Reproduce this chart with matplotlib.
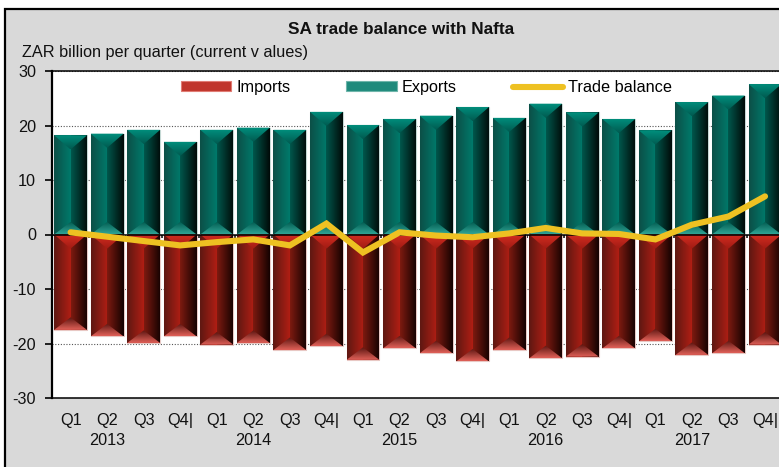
import numpy as np
import matplotlib
matplotlib.use('Agg')
import matplotlib.pyplot as plt
from matplotlib.colors import LinearSegmentedColormap
from matplotlib.lines import Line2D
from matplotlib.patches import Patch, Polygon, Rectangle

quarters = ['Q1', 'Q2', 'Q3', 'Q4|'] * 5
years = ['2013', '2014', '2015', '2016', '2017']
exports = [18.2, 18.5, 19.2, 17.0, 19.2, 19.6, 19.2, 22.5, 20.1, 21.2,
           21.8, 23.4, 21.4, 24.0, 22.4, 21.2, 19.1, 24.3, 25.5, 27.6]
imports = [-17.5, -18.7, -19.9, -18.7, -20.2, -19.9, -21.2, -20.5, -23.0, -20.9,
           -21.8, -23.3, -21.2, -22.7, -22.4, -20.9, -19.6, -22.1, -21.8, -20.2]
balance = [0.4, -0.4, -1.2, -2.0, -1.4, -0.9, -2.0, 2.0, -3.3, 0.4,
           -0.2, -0.5, 0.2, 1.2, 0.2, 0.1, -0.9, 1.8, 3.3, 7.0]

W, H = 779, 467
plt.rcParams['font.family'] = ['Liberation Sans', 'DejaVu Sans']
plt.rcParams['axes.unicode_minus'] = False
FS = 11.7

teal = {'left': ['#0c4f47', '#007a6b'], 'right': ['#00574c', '#000a08'],
        'head': ['#00907e', '#005a50'], 'foot': ['#00594e', '#2fa394'], 'edge': '#c4d8d4'}
red = {'left': ['#5e1812', '#b01e14'], 'right': ['#7d1a10', '#140201'],
       'head': ['#d42c20', '#a01c14'], 'foot': ['#5a1510', '#e06058'], 'edge': '#e8c8c4'}


def shade(ax, verts, colours, horizontal):
    # gradient image clipped to one facet of a bar
    verts = np.array(verts)
    x0, x1 = verts[:, 0].min(), verts[:, 0].max()
    y0, y1 = verts[:, 1].min(), verts[:, 1].max()
    cmap = LinearSegmentedColormap.from_list('facet', colours)
    ramp = np.linspace(0, 1, 64)
    ramp = ramp.reshape(1, -1) if horizontal else ramp.reshape(-1, 1)
    im = ax.imshow(ramp, cmap=cmap, extent=(x0, x1, y0, y1), origin='lower',
                   aspect='auto', zorder=2, interpolation='bilinear')
    im.set_clip_path(Polygon(verts, transform=ax.transData))


def bevel(ax, bar, style, cap, foot):
    # cap and foot are the facet depths, in data units
    x0, x1 = bar.get_x(), bar.get_x() + bar.get_width()
    mid = (x0 + x1) / 2
    base, end = bar.get_y(), bar.get_y() + bar.get_height()
    sign = 1 if end > base else -1
    shade(ax, [(x0, base), (mid, base), (mid, end), (x0, end)], style['left'], True)
    shade(ax, [(mid, base), (x1, base), (x1, end), (mid, end)], style['right'], True)
    if sign > 0:
        shade(ax, [(x0, end), (x1, end), (mid, end - cap)], [style['head'][1], style['head'][0]], False)
        shade(ax, [(x0, base), (x1, base), (mid, base + foot)], [style['foot'][1], style['foot'][0]], False)
    else:
        # the red bars hang from zero: bright tip at the axis, pale foot at the end
        shade(ax, [(x0, base), (x1, base), (mid, base - foot)], [style['head'][1], style['head'][0]], False)
        shade(ax, [(x0, end), (x1, end), (mid, end + cap)], [style['foot'][1], style['foot'][0]], False)


fig = plt.figure(figsize=(W / 100, H / 100), dpi=100, facecolor='white')
fig.add_artist(Rectangle((5 / W, -0.1), 1.1, 1.1 - 9 / H, transform=fig.transFigure,
                         facecolor='#d9d9d9', edgecolor='black', linewidth=1.6, zorder=-5))

cat = 36.55
left = 52.3
ax = fig.add_axes([left / W, (H - 398) / H, 20 * cat / W, (398 - 71) / H])
ax.set_facecolor('white')
ax.set_axisbelow(True)

x = np.arange(len(quarters))
exp_bars = ax.bar(x, exports, width=0.9, facecolor='#00594e', edgecolor=teal['edge'], linewidth=0.8, zorder=3)
imp_bars = ax.bar(x, imports, width=0.9, facecolor='#6e1a14', edgecolor=red['edge'], linewidth=0.8, zorder=3)
for b in exp_bars:
    b.set_zorder(1.9)
    bevel(ax, b, teal, 2.6, 2.3)
for b in imp_bars:
    b.set_zorder(1.9)
    bevel(ax, b, red, 2.3, 2.6)

ax.plot(x, balance, color='#eec122', linewidth=4.4, solid_capstyle='round',
        solid_joinstyle='miter', zorder=6)
ax.axhline(0, color='black', linewidth=1.1, zorder=5)
ax.vlines(x[:-1] + 0.5, -0.6, 0, color='black', linewidth=1.1, zorder=1.5)

ax.set_xlim(-0.5, 19.5)
ax.set_ylim(-30, 30)
ax.set_yticks([-30, -20, -10, 0, 10, 20, 30])
ax.yaxis.grid(True, color='#555555', linestyle=(0, (1, 1.5)), linewidth=0.8)
labels = list(quarters)
for i, year in enumerate(years):
    labels[4 * i + 1] = labels[4 * i + 1] + '\n' + year
ax.set_xticks(x)
ax.set_xticklabels(labels, fontsize=FS, color='#111111', linespacing=1.42)
ax.tick_params(axis='x', length=0, pad=11)
ax.tick_params(axis='y', length=4.7, width=1.2, pad=7, labelsize=FS, labelcolor='#111111')
ax.spines['right'].set_visible(False)
ax.spines['left'].set_linewidth(1.6)
ax.spines['top'].set_linewidth(1.1)
ax.spines['bottom'].set_linewidth(1.1)

handles = [Patch(facecolor='#c0352c', edgecolor='#e07c74', linewidth=0.8),
           Patch(facecolor='#1f8a7c', edgecolor='#6fb5aa', linewidth=0.8),
           Line2D([0], [0], color='#eec122', linewidth=4.4, solid_capstyle='round')]
ax.legend(handles, ['Imports', 'Exports', 'Trade balance'], ncol=3, frameon=False,
          fontsize=FS, handlelength=3.1, handleheight=0.55, handletextpad=0.3,
          columnspacing=3.45, loc='center left', bbox_to_anchor=(0.176, 0.95),
          borderpad=0, borderaxespad=0)

fig.text(401 / W, 1 - 30 / H, 'SA trade balance with Nafta', fontsize=12.4, fontweight='bold',
         ha='center', va='center', color='#111111')
fig.text(22 / W, 1 - 52 / H, 'ZAR billion per quarter (current v alues)', fontsize=FS,
         ha='left', va='center', color='#111111')

fig.savefig('out.png', dpi=100)
